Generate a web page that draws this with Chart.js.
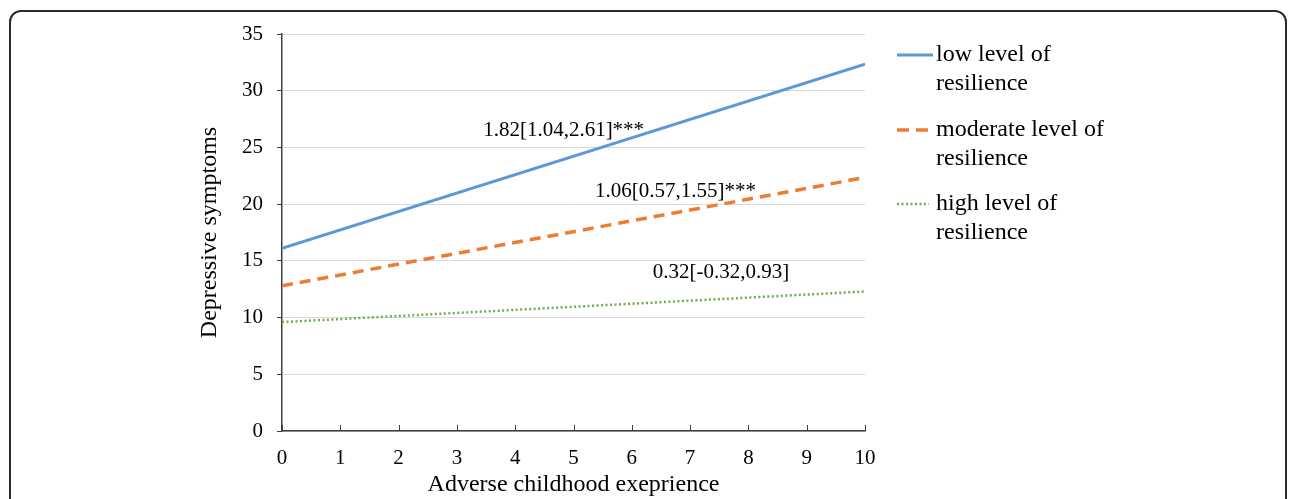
<!DOCTYPE html>
<html>
<head>
<meta charset="utf-8">
<script src="https://cdn.jsdelivr.net/npm/chart.js@4"></script>
<style>
  html, body { margin: 0; padding: 0; background: #fff; overflow: hidden; }
  #frame {
    position: absolute; left: 9px; top: 10px; width: 1274px; height: 600px;
    border: 2px solid #2b2b2b; border-radius: 12px;
  }
  #wrap { position: absolute; left: 0; top: 0; width: 1295px; height: 499px; }
</style>
</head>
<body>
<div id="frame"></div>
<div id="wrap"><canvas id="chart" width="1295" height="499"></canvas></div>
<script>
// data
const xValues = [0, 10];
const lowResilience = [16.1, 32.35];
const moderateResilience = [12.8, 22.35];
const highResilience = [9.6, 12.3];
const seriesNames = [
    ['low level of', 'resilience'],
    ['moderate level of', 'resilience'],
    ['high level of', 'resilience']
];
const noteTexts = ['1.82[1.04,2.61]***', '1.06[0.57,1.55]***', '0.32[-0.32,0.93]'];
const noteX = [3.45, 5.37, 6.36];
const noteY = [26.5, 21.1, 14.0];

const serif = '"Liberation Serif", "Times New Roman", serif';

function toPoints(values) {
    return xValues.map((x, i) => ({ x: x, y: values[i] }));
}

// annotations next to the lines
const notesPlugin = {
    id: 'notes',
    afterDatasetsDraw(chart) {
        const ctx = chart.ctx;
        const xs = chart.scales.x, ys = chart.scales.y;
        ctx.save();
        ctx.font = '21px ' + serif;
        ctx.fillStyle = '#000';
        ctx.textAlign = 'left';
        ctx.textBaseline = 'middle';
        noteTexts.forEach((t, i) => {
            ctx.fillText(t, xs.getPixelForValue(noteX[i]), ys.getPixelForValue(noteY[i]));
        });
        ctx.restore();
    }
};

// x axis tick marks point up into the plot, like Excel
const insideTicks = {
    id: 'insideTicks',
    afterDraw(chart) {
        const ctx = chart.ctx;
        const xs = chart.scales.x;
        const bottom = chart.chartArea.bottom;
        ctx.save();
        ctx.strokeStyle = '#404040';
        ctx.lineWidth = 1;
        xs.ticks.forEach(t => {
            const px = Math.round(xs.getPixelForValue(t.value)) + 0.5;
            ctx.beginPath();
            ctx.moveTo(px, bottom);
            ctx.lineTo(px, bottom - 6);
            ctx.stroke();
        });
        ctx.restore();
    }
};

// legend on the right with two-line labels
const sideLegend = {
    id: 'sideLegend',
    afterDraw(chart) {
        const ctx = chart.ctx;
        const itemTops = [55, 130, 204];
        ctx.save();
        ctx.font = '24px ' + serif;
        ctx.textAlign = 'left';
        ctx.textBaseline = 'middle';
        chart.data.datasets.forEach((ds, i) => {
            const y = itemTops[i];
            const dash = ds.borderDash || [];
            ctx.strokeStyle = ds.borderColor;
            ctx.lineWidth = ds.borderWidth;
            if (dash.length && dash[0] > 5) {
                ctx.setLineDash([12, 7]);
            } else {
                ctx.setLineDash(dash);
            }
            ctx.beginPath();
            ctx.moveTo(897, y);
            ctx.lineTo(dash.length ? 929 : 933, y);
            ctx.stroke();
            ctx.setLineDash([]);
            ctx.fillStyle = '#000';
            seriesNames[i].forEach((line, j) => {
                ctx.fillText(line, 936, y + j * 29);
            });
        });
        ctx.restore();
    }
};

const ctx = document.getElementById('chart').getContext('2d');
new Chart(ctx, {
    type: 'line',
    data: {
        datasets: [
            {
                label: seriesNames[0].join(' '),
                data: toPoints(lowResilience),
                borderColor: '#5B9BD5',
                borderWidth: 3,
                pointRadius: 0
            },
            {
                label: seriesNames[1].join(' '),
                data: toPoints(moderateResilience),
                borderColor: '#ED7D31',
                borderWidth: 3.5,
                borderDash: [11, 7],
                pointRadius: 0
            },
            {
                label: seriesNames[2].join(' '),
                data: toPoints(highResilience),
                borderColor: '#70AD47',
                borderWidth: 2.5,
                borderDash: [2, 2.5],
                pointRadius: 0
            }
        ]
    },
    options: {
        responsive: false,
        animation: false,
        layout: { padding: { left: 180, top: 34, right: 430, bottom: 0 } },
        plugins: {
            legend: { display: false },
            tooltip: { enabled: false }
        },
        scales: {
            x: {
                type: 'linear',
                min: 0,
                max: 10,
                afterFit: s => { s.height = 68; },
                ticks: {
                    stepSize: 1,
                    padding: 15,
                    color: '#000',
                    font: { family: serif, size: 21 }
                },
                grid: { drawOnChartArea: false, drawTicks: false },
                border: { color: '#404040', width: 1.5 },
                title: {
                    display: true,
                    text: 'Adverse childhood exeprience',
                    color: '#000',
                    font: { family: serif, size: 24 },
                    padding: { top: 0, bottom: 0 }
                }
            },
            y: {
                min: 0,
                max: 35,
                afterFit: s => { s.width = 102; },
                ticks: {
                    stepSize: 5,
                    padding: 14,
                    color: '#000',
                    font: { family: serif, size: 21 }
                },
                grid: { color: '#d9d9d9', tickColor: '#404040', tickLength: 5 },
                border: { color: '#404040', width: 1.5 },
                title: {
                    display: true,
                    text: 'Depressive symptoms',
                    color: '#000',
                    font: { family: serif, size: 24 },
                    padding: { top: 15, bottom: 0 }
                }
            }
        }
    },
    plugins: [notesPlugin, insideTicks, sideLegend]
});
</script>
</body>
</html>
